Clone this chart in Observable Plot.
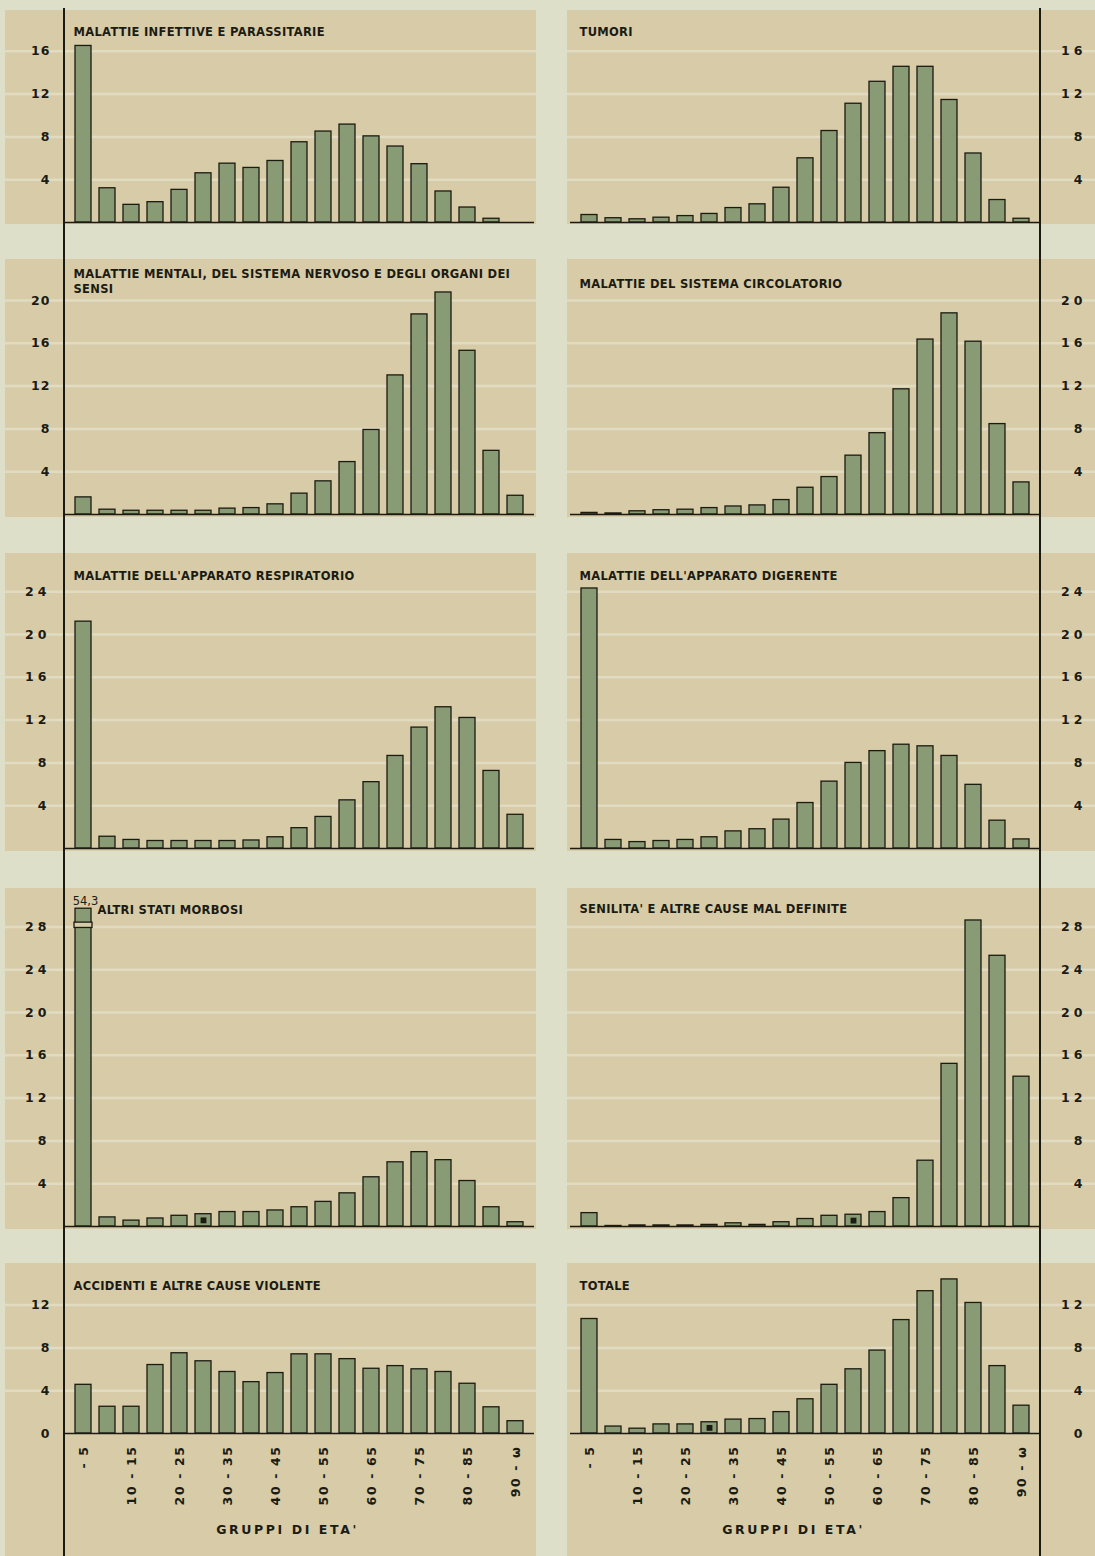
<!DOCTYPE html>
<html><head><meta charset="utf-8">
<script src="https://cdn.jsdelivr.net/npm/d3@7"></script>
<script src="https://cdn.jsdelivr.net/npm/@observablehq/plot@0.6"></script>
<style>
html,body{margin:0;padding:0;background:#dedfc8;}
#page{position:relative;width:1095px;height:1556px;background:#dedfc8;overflow:hidden;}
.panel{position:absolute;}
.panel svg{display:block;}
.vline{position:absolute;width:2px;background:#1b1a12;}
.spaced g[aria-label="y-axis tick label"] text{letter-spacing:4px;}
.tight g[aria-label="y-axis tick label"] text{letter-spacing:1px;}
g[aria-label="x-axis tick label"] text{letter-spacing:1.6px;}
</style></head><body><div id="page"></div>
<script>
// ---- categories ----
const ageGroups = ["0-5","5-10","10-15","15-20","20-25","25-30","30-35","35-40","40-45","45-50","50-55","55-60","60-65","65-70","70-75","75-80","80-85","85-90","90-ω"];
const ageLabels = ["- 5","5 - 10","10 - 15","15 - 20","20 - 25","25 - 30","30 - 35","35 - 40","40 - 45","45 - 50","50 - 55","55 - 60","60 - 65","65 - 70","70 - 75","75 - 80","80 - 85","85 - 90","90 - ω"];
const xAxisTitle = "GRUPPI DI ETA'";

// ---- series values ----
const infettive    = [16.5, 3.2, 1.65, 1.9, 3.05, 4.6, 5.5, 5.1, 5.75, 7.5, 8.5, 9.15, 8.05, 7.1, 5.45, 2.9, 1.4, 0.35, 0];
const tumori       = [0.7, 0.4, 0.3, 0.45, 0.6, 0.8, 1.35, 1.7, 3.25, 6.0, 8.55, 11.1, 13.15, 14.55, 14.55, 11.45, 6.45, 2.1, 0.35];
const mentali      = [1.6, 0.45, 0.35, 0.35, 0.35, 0.35, 0.55, 0.6, 0.95, 1.95, 3.1, 4.9, 7.9, 13.0, 18.7, 20.75, 15.3, 5.95, 1.75];
const circolatorio = [0.15, 0.1, 0.3, 0.4, 0.45, 0.6, 0.75, 0.85, 1.35, 2.5, 3.5, 5.5, 7.6, 11.7, 16.35, 18.8, 16.15, 8.45, 3.0];
const respiratorio = [21.2, 1.1, 0.8, 0.7, 0.7, 0.7, 0.7, 0.75, 1.05, 1.9, 2.95, 4.5, 6.2, 8.65, 11.3, 13.2, 12.2, 7.25, 3.15];
const digerente    = [24.3, 0.8, 0.6, 0.7, 0.8, 1.05, 1.6, 1.8, 2.7, 4.25, 6.25, 8.0, 9.1, 9.7, 9.55, 8.65, 5.95, 2.6, 0.85];
const altri        = [54.3, 0.85, 0.55, 0.75, 1.0, 1.15, 1.35, 1.35, 1.5, 1.8, 2.3, 3.1, 4.6, 6.0, 6.95, 6.2, 4.25, 1.8, 0.4];
const senilita     = [1.25, 0.05, 0.1, 0.1, 0.1, 0.15, 0.3, 0.15, 0.4, 0.7, 1.0, 1.1, 1.35, 2.65, 6.15, 15.2, 28.6, 25.3, 14.0];
const accidenti    = [4.55, 2.5, 2.5, 6.4, 7.5, 6.75, 5.75, 4.8, 5.65, 7.4, 7.4, 6.95, 6.05, 6.3, 6.0, 5.75, 4.65, 2.45, 1.15];
const totale       = [10.7, 0.65, 0.45, 0.85, 0.85, 1.05, 1.3, 1.35, 2.0, 3.2, 4.55, 6.0, 7.75, 10.6, 13.3, 14.4, 12.2, 6.3, 2.6];

// ---- titles ----
const titles = {
  infettive: "MALATTIE INFETTIVE E PARASSITARIE",
  tumori: "TUMORI",
  mentali: "MALATTIE MENTALI, DEL SISTEMA NERVOSO E DEGLI ORGANI DEI\nSENSI",
  circolatorio: "MALATTIE DEL SISTEMA CIRCOLATORIO",
  respiratorio: "MALATTIE DELL'APPARATO RESPIRATORIO",
  digerente: "MALATTIE DELL'APPARATO DIGERENTE",
  altri: "ALTRI STATI MORBOSI",
  senilita: "SENILITA' E ALTRE CAUSE MAL DEFINITE",
  accidenti: "ACCIDENTI E ALTRE CAUSE VIOLENTE",
  totale: "TOTALE"
};

// ---- tick labels per row ----
const ticksRow1 = [4, 8, 12, 16];
const ticksRow2 = [4, 8, 12, 16, 20];
const ticksRow3 = [4, 8, 12, 16, 20, 24];
const ticksRow4 = [4, 8, 12, 16, 20, 24, 28];
const ticksRow5 = [0, 4, 8, 12];

// bars carrying a small black square in the original
const markedBars = [["altri", "25-30"], ["senilita", "55-60"], ["totale", "25-30"]];

// ---- styling / layout ----
const C = {page:"#dedfc8", panel:"#d7cba8", stripe:"#e1dbc2", bar:"#889b74", ink:"#1c1b12"};
const UNIT = 10.7; // px per unit
const rows = [
  {top:10,   height:214, base:212},
  {top:259,  height:258, base:255},
  {top:553,  height:298, base:295},
  {top:888,  height:341, base:338},
  {top:1263, height:293, base:170}
];
const cols = [
  {left:5,   width:531, mL:59, mR:2,  anchor:"left"},
  {left:567, width:528, mL:3,  mR:55, anchor:"right"}
];
const axisBreak = {cap:29.7, lo:27.9, hi:28.4};

const panels = [
  {key:"infettive",    values:infettive,    ticks:ticksRow1, row:0, col:0, spaced:false, tdy:15},
  {key:"tumori",       values:tumori,       ticks:ticksRow1, row:0, col:1, spaced:true,  tdy:15},
  {key:"mentali",      values:mentali,      ticks:ticksRow2, row:1, col:0, spaced:false, tdy:8},
  {key:"circolatorio", values:circolatorio, ticks:ticksRow2, row:1, col:1, spaced:true,  tdy:18},
  {key:"respiratorio", values:respiratorio, ticks:ticksRow3, row:2, col:0, spaced:true,  tdy:16},
  {key:"digerente",    values:digerente,    ticks:ticksRow3, row:2, col:1, spaced:true,  tdy:16},
  {key:"altri",        values:altri,        ticks:ticksRow4, row:3, col:0, spaced:true,  tdy:15, tdx:33, broken:true},
  {key:"senilita",     values:senilita,     ticks:ticksRow4, row:3, col:1, spaced:true,  tdy:14},
  {key:"accidenti",    values:accidenti,    ticks:ticksRow5, row:4, col:0, spaced:false, tdy:16},
  {key:"totale",       values:totale,       ticks:ticksRow5, row:4, col:1, spaced:true,  tdy:16}
];

const page = document.getElementById("page");
const fmtIt = v => String(v).replace(".", ",");

for (const p of panels) {
  const row = rows[p.row], col = cols[p.col];
  const bottom = p.row === 4;
  const data = ageGroups.map((g, i) => ({
    g, v: p.values[i],
    shown: p.broken ? Math.min(p.values[i], axisBreak.cap) : p.values[i]
  }));
  const marks = [
    Plot.ruleY(p.ticks.filter(t => t > 0), {stroke: C.stripe, strokeWidth: 2.5, insetLeft: -col.mL, insetRight: -col.mR}),
    Plot.barY(data, {x: "g", y: "shown", fill: C.bar, stroke: C.ink, strokeWidth: 1.3}),
  ];
  if (p.broken) {
    const over = data.filter(d => d.v > axisBreak.cap);
    marks.push(Plot.barY(over, {x: "g", y1: () => axisBreak.lo, y2: () => axisBreak.hi, fill: C.panel, stroke: C.ink, strokeWidth: 1.3, insetLeft: -1, insetRight: -1}));
    marks.push(Plot.text(over, {x: "g", y: () => axisBreak.cap, text: d => fmtIt(d.v), dy: -7, dx: 2, fontSize: 11.5, fontWeight: "normal", fill: C.ink}));
  }
  const marked = markedBars.filter(m => m[0] === p.key).map(m => data.find(d => d.g === m[1]));
  marks.push(Plot.dot(marked, {x: "g", y: d => d.v / 2, symbol: "square", r: 3.3, fill: C.ink, stroke: null}));
  marks.push(Plot.ruleY([0], {stroke: C.ink, strokeWidth: 1.6}));
  marks.push(Plot.axisY({
    anchor: col.anchor, ticks: p.ticks, tickSize: 0, label: null,
    tickPadding: col.anchor === "left" ? 14 : 46,
    textAnchor: "end", fontSize: 12.5, fontWeight: "bold", fill: C.ink, tickFormat: d => String(d)
  }));
  marks.push(Plot.text([titles[p.key]], {
    text: d => d, frameAnchor: "top-left", dx: p.tdx ?? 9, dy: p.tdy,
    textAnchor: "start", lineAnchor: "top", lineHeight: 1.3, fontSize: 11.5, fontWeight: "bold", fill: C.ink
  }));
  if (bottom) {
    marks.push(Plot.axisX({
      ticks: ageGroups.filter((d, i) => i % 2 === 0),
      tickFormat: d => ageLabels[ageGroups.indexOf(d)],
      tickRotate: -90, tickSize: 0, tickPadding: 12, label: null,
      fontSize: 12.5, fontWeight: "bold", fill: C.ink
    }));
    marks.push(Plot.text([xAxisTitle], {
      text: d => d, frameAnchor: "bottom", dy: 100, dx: -12,
      fontSize: 12.5, fontWeight: "bold", fill: C.ink
    }));
  }
  const chart = Plot.plot({
    width: col.width, height: row.height,
    marginLeft: col.mL, marginRight: col.mR, marginTop: 0, marginBottom: row.height - row.base,
    x: {type: "band", domain: ageGroups, paddingInner: 0.34, paddingOuter: 0.34, axis: null, label: null},
    y: {domain: [0, row.base / UNIT], axis: null, label: null},
    style: {background: C.panel, fontFamily: "'DejaVu Sans', sans-serif", fontSize: "12px", color: C.ink, overflow: "visible"},
    marks
  });
  const firstLine = titles[p.key].split("\n")[0];
  chart.querySelectorAll("text").forEach(t => {
    const s = t.textContent;
    if (s === xAxisTitle) t.style.letterSpacing = "2.6px";
    else if (s.startsWith(firstLine)) t.style.letterSpacing = "0.3px";
  });
  const div = document.createElement("div");
  div.className = "panel " + (p.spaced ? "spaced" : "tight");
  div.style.left = col.left + "px";
  div.style.top = row.top + "px";
  div.appendChild(chart);
  page.appendChild(div);
}

// long vertical axis lines spanning the whole sheet
for (const x of [63, 1039]) {
  const l = document.createElement("div");
  l.className = "vline";
  l.style.left = x + "px"; l.style.top = "8px"; l.style.height = "1548px";
  page.appendChild(l);
}
</script>
</body></html>
